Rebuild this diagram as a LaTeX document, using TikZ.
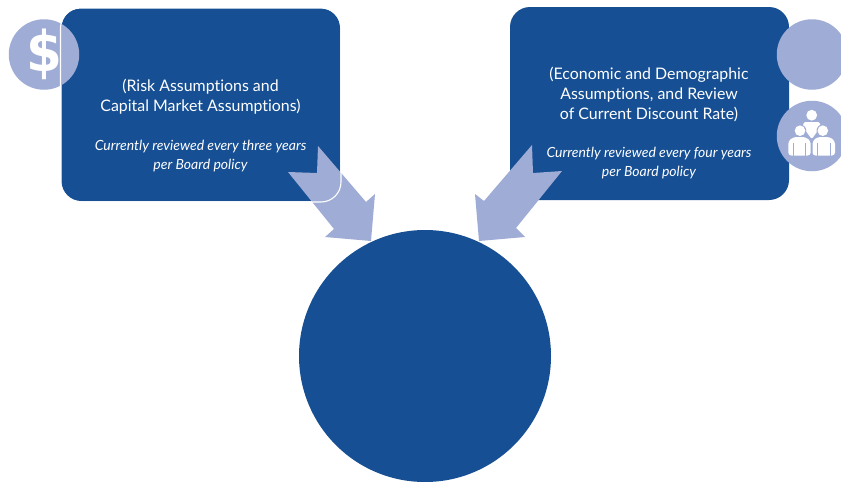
\documentclass[tikz,border=0pt]{standalone}
\usepackage{fontspec}
\setmainfont[Ligatures=NoCommon]{Lato}
\newfontfamily\dollarfont{DejaVu Sans}
\definecolor{boxblue}{HTML}{164F93}
\definecolor{lightblue}{HTML}{9FACD5}
\tikzset{
  panel/.style={fill=boxblue,rounded corners=20},
  badge/.style={circle,fill=lightblue,inner sep=0pt,minimum size=70.5},
  pointer/.style={fill=lightblue},
  heading/.style={text=white,align=center,font=\fontsize{15.9}{20}\selectfont,inner sep=0pt},
  note/.style={text=white,align=center,font=\fontsize{14}{19}\selectfont\itshape,inner sep=0pt},
  person/.style={fill=white}
}
\begin{document}
\begin{tikzpicture}[x=1pt,y=-1pt]
\useasboundingbox (0,0) rectangle (841,482);
\fill[white] (0,0) rectangle (841,482);
\begin{scope}
\clip (0,0) rectangle (841,482);
\fill[panel] (61.5,8) rectangle (340,201);
\fill[panel] (510,7) rectangle (789,200);
\node[circle,fill=boxblue,inner sep=0pt,minimum size=252] (hub) at (425,356) {};
\node[badge] (money) at (44,54.5) {};
\node[badge] (topbadge) at (812,54.5) {};
\node[badge] (people) at (812,136) {};
\path[pointer] (318,146) -- (366,202) -- (375,194) -- (371,241) -- (325,237) -- (334,229) -- (288,172) -- (317,173) -- cycle;
\path[pointer] (532,145) -- (484,201) -- (475,194) -- (479,241) -- (525,237) -- (516,228) -- (562,171) -- (533,173) -- cycle;
\node[text=white,font=\fontsize{56}{56}\selectfont\dollarfont\bfseries,inner sep=0pt,xscale=0.92] (dollar) at (44,54.5) {\$};
\draw[white,line width=1.1,rounded corners=20] (60.5,8) rectangle (341,202);
\node[heading] (lefthead) at (200.5,96.5) {(Risk Assumptions and\\Capital Market Assumptions)};
\node[note] (leftnote) at (200.5,156) {Currently reviewed every three years\\per Board policy};
\node[heading] (righthead) at (649,94) {(Economic and Demographic\\Assumptions, and Review\\of Current Discount Rate)};
\node[note] (rightnote) at (649,163.5) {Currently reviewed every four years\\per Board policy};
% people icon
\fill[person] (811.7,115.2) circle (5.4);
\fill[person,rounded corners=1.5] (803.5,122.2) -- (820,122.2) -- (820.5,127) -- (815.5,134) -- (811.7,139) -- (808,134) -- (803,127) -- cycle;
\fill[lightblue] (800,130.7) circle (6.3) (822.8,130.7) circle (6.3);
\fill[person] (800,130.7) circle (5.3);
\fill[person] (822.8,130.7) circle (5.3);
\fill[person,rounded corners=3] (788.3,155.5) -- (788.3,141) -- (793.5,137) -- (805.5,137) -- (810.7,141) -- (810.7,155.5) -- cycle;
\fill[person,rounded corners=3] (812.5,155.5) -- (812.5,141) -- (817.7,137) -- (829.8,137) -- (835,141) -- (835,155.5) -- cycle;
\draw[lightblue,line width=1] (793.3,142.5) -- (793.3,156) (805.5,142.5) -- (805.5,156) (817.7,142.5) -- (817.7,156) (830,142.5) -- (830,156);
\end{scope}
\end{tikzpicture}
\end{document}
